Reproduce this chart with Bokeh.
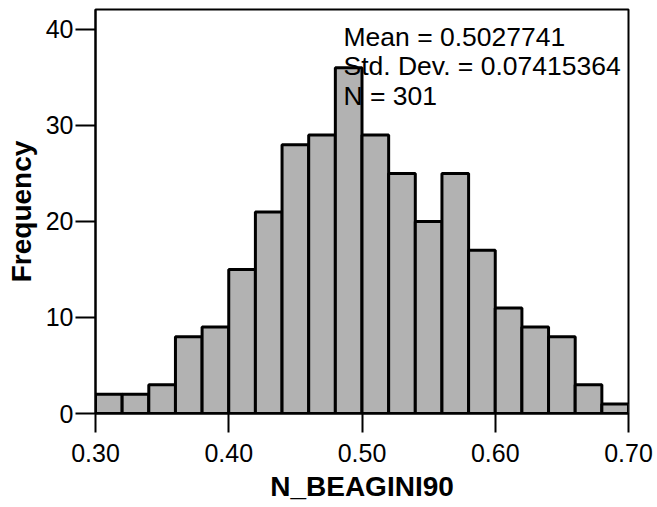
from bokeh.plotting import figure
from bokeh.models import Range1d, FixedTicker, NumeralTickFormatter, Label, ColumnDataSource
from bokeh.embed import file_html
from bokeh.resources import INLINE

# Histogram data: bins of N_BEAGINI90, width 0.02
bin_left = [0.30, 0.32, 0.34, 0.36, 0.38, 0.40, 0.42, 0.44, 0.46, 0.48,
            0.50, 0.52, 0.54, 0.56, 0.58, 0.60, 0.62, 0.64, 0.66, 0.68]
bin_right = [0.32, 0.34, 0.36, 0.38, 0.40, 0.42, 0.44, 0.46, 0.48, 0.50,
             0.52, 0.54, 0.56, 0.58, 0.60, 0.62, 0.64, 0.66, 0.68, 0.70]
counts = [2, 2, 3, 8, 9, 15, 21, 28, 29, 36,
          29, 25, 20, 25, 17, 11, 9, 8, 3, 1]

x_ticks = [0.30, 0.40, 0.50, 0.60, 0.70]
y_ticks = [0, 10, 20, 30, 40]

x_title = "N_BEAGINI90"
y_title = "Frequency"
stats_lines = ["Mean = 0.5027741", "Std. Dev. = 0.07415364", "N = 301"]

FONT = "Liberation Sans"

p = figure(width=657, height=507, output_backend="svg", toolbar_location=None,
           x_range=Range1d(0.30, 0.70), y_range=Range1d(0, 42.08),
           min_border_left=95, min_border_right=29, min_border_top=9,
           min_border_bottom=94)

src = ColumnDataSource(dict(left=bin_left, right=bin_right, top=counts,
                            bottom=[0] * len(counts)))
p.quad(left="left", right="right", top="top", bottom="bottom", source=src,
       fill_color="#b2b2b2", line_color="black", line_width=3)

p.xgrid.visible = False
p.ygrid.visible = False
p.background_fill_color = "white"
p.border_fill_color = "white"
p.outline_line_color = "black"
p.outline_line_width = 2

for ax in (p.xaxis[0], p.yaxis[0]):
    ax.axis_line_width = 2
    ax.axis_line_color = "black"
    ax.major_tick_line_width = 2
    ax.major_tick_line_color = "black"
    ax.major_tick_in = 0
    ax.minor_tick_line_color = None
    ax.major_label_text_font = FONT
    ax.major_label_text_font_size = "25px"
    ax.major_label_text_color = "black"
    ax.axis_label_text_font = FONT
    ax.axis_label_text_font_size = "28px"
    ax.axis_label_text_font_style = "bold"
    ax.axis_label_text_color = "black"

p.xaxis.ticker = FixedTicker(ticks=x_ticks)
p.xaxis.formatter = NumeralTickFormatter(format="0.00")
p.xaxis.major_tick_out = 19
p.xaxis.major_label_standoff = 11
p.xaxis.axis_label = x_title
p.xaxis.axis_label_standoff = 6

p.yaxis.ticker = FixedTicker(ticks=y_ticks)
p.yaxis.major_tick_out = 20
p.yaxis.major_label_standoff = 2
p.yaxis.axis_label = y_title
p.yaxis.axis_label_standoff = 6

ys = [39.25, 36.15, 33.05]
for txt, yv in zip(stats_lines, ys):
    p.add_layout(Label(x=0.4861, y=yv, text=txt, text_font=FONT,
                       text_font_size="26.5px", text_color="black",
                       text_align="left", text_baseline="alphabetic"))

open("out.html", "w").write(file_html(p, INLINE))
